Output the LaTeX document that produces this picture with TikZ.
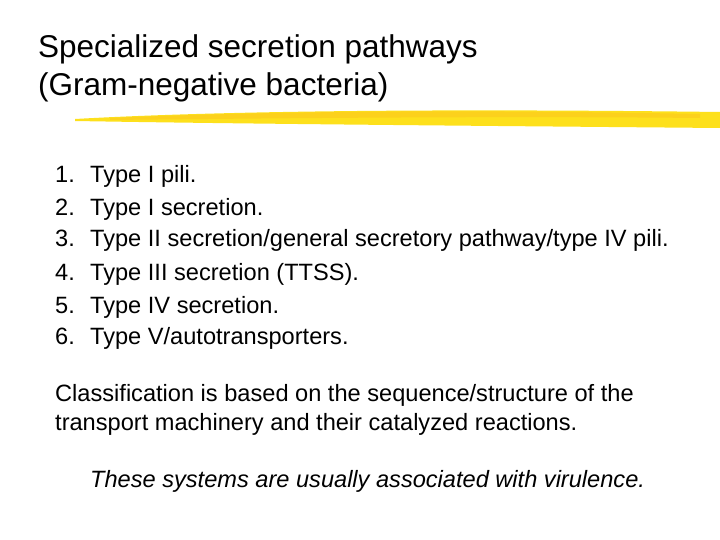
\documentclass[tikz,border=0pt]{standalone}
\usepackage{fontspec}
\setmainfont{Liberation Sans}
\begin{document}
\begin{tikzpicture}[x=1pt,y=-1pt,
  t/.style={anchor=base west,inner sep=0pt,font=\fontsize{23.6}{28}\selectfont},
  ti/.style={anchor=base west,inner sep=0pt,font=\fontsize{31.5}{36}\selectfont}]
\useasboundingbox (0,0) rectangle (720,540);
\fill[white] (0,0) rectangle (720,540);
\node[ti] (t1) at (38,58) {Specialized secretion pathways};
\node[ti] (t2) at (38,96) {(Gram-negative bacteria)};
\fill[yellow!80!orange,opacity=0.9] (75,119) .. controls (200,112) and (400,108) .. (720,112)
  -- (720,128) .. controls (500,126) and (250,124) .. (75,121) -- cycle;
\fill[yellow!60!orange!90,opacity=0.7] (110,118) .. controls (300,110) and (500,110) .. (700,114)
  -- (700,118) .. controls (500,116) and (300,118) .. (110,120) -- cycle;
\node[t] (n1) at (55,183) {1.}; \node[t] (s1) at (90,183) {Type I pili.};
\node[t] (n2) at (55,215) {2.}; \node[t] (s2) at (90,215) {Type I secretion.};
\node[t] (n3) at (55,247) {3.}; \node[t] (s3) at (90,247) {Type II secretion/general secretory pathway/type IV pili.};
\node[t] (n4) at (55,280) {4.}; \node[t] (s4) at (90,280) {Type III secretion (TTSS).};
\node[t] (n5) at (55,313) {5.}; \node[t] (s5) at (90,313) {Type IV secretion.};
\node[t] (n6) at (55,344) {6.}; \node[t] (s6) at (90,344) {Type V/autotransporters.};
\node[t] (c1) at (55,401) {Classification is based on the sequence/structure of the};
\node[t] (c2) at (55,430) {transport machinery and their catalyzed reactions.};
\node[t,font=\fontsize{23.6}{28}\selectfont\itshape] (v) at (90,487) {These systems are usually associated with virulence.};
\end{tikzpicture}
\end{document}
